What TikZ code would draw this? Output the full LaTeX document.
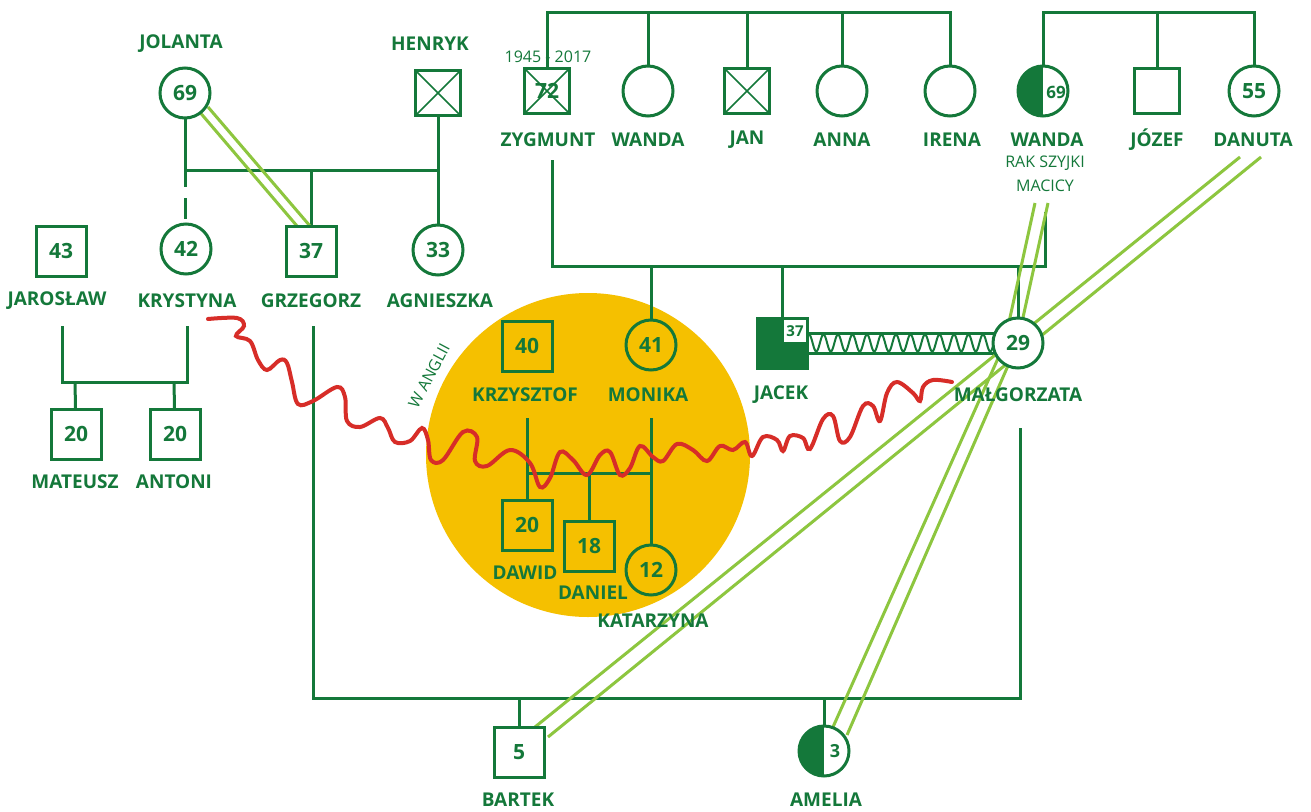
\documentclass[tikz,border=0pt]{standalone}
\usepackage{fontspec}
\setmainfont{Open Sans}
\usetikzlibrary{calc}
\definecolor{dg}{RGB}{20,120,58}
\definecolor{lg}{RGB}{141,198,63}
\definecolor{yl}{RGB}{245,192,0}
\definecolor{rd}{RGB}{215,45,40}
\pgfdeclarelayer{back}
\pgfdeclarelayer{lines}
\pgfsetlayers{back,lines,main}
\begin{document}
\begin{tikzpicture}[x=1pt,y=-1pt,
  rel/.style={draw=dg, line width=3pt},
  emo/.style={draw=lg, line width=3pt},
  person/.style={draw=dg, line width=3pt, fill=white, inner sep=0pt, text=dg, font=\fontsize{21}{21}\selectfont\bfseries},
  fem/.style={person, circle, minimum size=50pt},
  mal/.style={person, rectangle, minimum size=50pt},
  malsm/.style={person, rectangle, minimum size=45pt},
  crossed/.style={path picture={\draw[dg, line width=1.6pt] (path picture bounding box.north west) -- (path picture bounding box.south east) (path picture bounding box.north east) -- (path picture bounding box.south west);}},
  halffill/.style={path picture={\fill[dg] (path picture bounding box.north west) rectangle (path picture bounding box.south);}},
  nm/.style={text=dg, inner sep=0pt, font=\fontsize{19}{19}\selectfont\bfseries},
  note/.style={text=dg, inner sep=0pt, font=\fontsize{16}{17}\selectfont},
  inyl/.style={fill=yl},
]
\useasboundingbox (0,0) rectangle (1311,811);
\begin{pgfonlayer}{back}
\fill[white] (0,0) rectangle (1311,811);
\fill[yl] (588,455) circle[radius=162];
\end{pgfonlayer}

% ---------- persons ----------
\node[fem] (jolanta) at (185,93) {69};
\node[malsm, crossed] (henryk) at (438,93) {};
\node[malsm, crossed] (zygmunt) at (547,91) {72};
\node[fem] (wandaA) at (648,91) {};
\node[malsm, crossed] (jan) at (747,91) {};
\node[fem] (anna) at (842,91) {};
\node[fem] (irena) at (950,91) {};
\node[fem, halffill] (wandaB) at (1043,91) {};
\node[text=dg, inner sep=0pt, font=\fontsize{17}{17}\selectfont\bfseries] (wandaBage) at (1056,92) {69};
\node[malsm] (jozef) at (1157,91) {};
\node[fem] (danuta) at (1254,91) {55};

\node[mal] (jaroslaw) at (61,251) {43};
\node[fem] (krystyna) at (186,249) {42};
\node[mal] (grzegorz) at (311,251) {37};
\node[fem] (agnieszka) at (438,250) {33};

\node[mal] (mateusz) at (76,434) {20};
\node[mal] (antoni) at (175,434) {20};

\node[mal, inyl] (krzysztof) at (527,346) {40};
\node[fem, inyl] (monika) at (651,345) {41};
\node[mal, fill=dg] (jacek) at (782,343) {};
\node[draw=dg, fill=white, line width=1.2pt, minimum size=23pt, inner sep=0pt, text=dg, font=\fontsize{15}{15}\selectfont\bfseries] (jacekage) at (795,331) {37};
\node[fem] (malgorzata) at (1018,343) {29};

\node[mal, inyl] (dawid) at (527,525) {20};
\node[mal, inyl] (daniel) at (589,546) {18};
\node[fem, inyl] (katarzyna) at (651,570) {12};

\node[mal] (bartek) at (519,752) {5};
\node[fem, halffill] (amelia) at (824,751) {};
\node[text=dg, inner sep=0pt, font=\fontsize{18}{18}\selectfont\bfseries] (ameliaage) at (835,751) {3};

% ---------- names ----------
\node[nm] (nJolanta) at (181,44) {JOLANTA};
\node[nm] (nHenryk) at (430,44) {HENRYK};
\node[note] (nZygDates) at (548,57) {1945 - 2017};
\node[nm] (nZygmunt) at (548,140) {ZYGMUNT};
\node[nm] (nWandaA) at (648,140) {WANDA};
\node[nm] (nJan) at (747,140) {JAN};
\node[nm] (nAnna) at (842,140) {ANNA};
\node[nm] (nIrena) at (952,140) {IRENA};
\node[nm] (nWandaB) at (1047,140) {WANDA};
\node[note] (nRak1) at (1045,163) {RAK SZYJKI};
\node[note] (nRak2) at (1045,186) {MACICY};
\node[nm] (nJozef) at (1157,140) {JÓZEF};
\node[nm] (nDanuta) at (1253,140) {DANUTA};

\node[nm] (nJaroslaw) at (57,301) {JAROSŁAW};
\node[nm] (nKrystyna) at (187,301) {KRYSTYNA};
\node[nm] (nGrzegorz) at (311,301) {GRZEGORZ};
\node[nm] (nAgnieszka) at (440,301) {AGNIESZKA};

\node[nm] (nMateusz) at (75,482) {MATEUSZ};
\node[nm] (nAntoni) at (174,482) {ANTONI};

\node[nm] (nKrzysztof) at (525,395) {KRZYSZTOF};
\node[nm] (nMonika) at (648,395) {MONIKA};
\node[nm] (nJacek) at (781,395) {JACEK};
\node[nm] (nMalgorzata) at (1018,395) {MAŁGORZATA};

\node[nm] (nDawid) at (525,573) {DAWID};
\node[nm] (nDaniel) at (593,593) {DANIEL};
\node[nm] (nKatarzyna) at (653,621) {KATARZYNA};

\node[nm] (nBartek) at (518,800) {BARTEK};
\node[nm] (nAmelia) at (826,800) {AMELIA};

\node[note, rotate=62] (nAnglia) at (429,376) {W ANGLII};

% ---------- connectors ----------
\begin{pgfonlayer}{lines}
% Zygmunt's siblings
\draw[rel] (zygmunt.center) -- (547,12) -- (950,12) -- (irena.center);
\foreach \n in {wandaA,jan,anna} \draw[rel] (\n.center) -- (\n.center |- 0,12);
% Wanda's siblings
\draw[rel] (wandaB.center) -- (1043,12) -- (1254,12) -- (danuta.center);
\draw[rel] (jozef.center) -- (jozef.center |- 0,12);
% Jolanta + Henryk
\draw[rel] (jolanta.center) -- (185,170) -- (438,170) -- (henryk.center);
\draw[rel] (311,170) -- (grzegorz.center);
\draw[rel] (438,170) -- (agnieszka.center);
\draw[rel] (185,170) -- (185,187) (185,198) -- (185,219);
% Jaroslaw + Krystyna
\draw[rel] (62,326) -- (62,382) -- (187,382) -- (187,326);
\draw[rel] (75,382) -- (mateusz.center);
\draw[rel] (174,382) -- (antoni.center);
% Zygmunt + Wanda
\draw[rel] (552,160) -- (552,266) -- (1045,266) -- (1045,212);
\draw[rel] (651,266) -- (monika.center);
\draw[rel] (782,266) -- (jacek.center);
\draw[rel] (1018,266) -- (malgorzata.center);
% Krzysztof + Monika
\draw[rel] (527,418) -- (dawid.center);
\draw[rel] (651,418) -- (katarzyna.center);
\draw[rel] (527,473) -- (651,473);
\draw[rel] (589,473) -- (daniel.center);
% Grzegorz + Malgorzata
\draw[rel] (313,326) -- (313,698) -- (1020,698) -- (1020,428);
\draw[rel] (519,698) -- (bartek.center);
\draw[rel] (824,698) -- (amelia.center);
% Jacek + Malgorzata
\draw[rel] (jacek.center |- 0,333) -- (malgorzata.center |- 0,333);
\draw[rel] (jacek.center |- 0,353) -- (malgorzata.center |- 0,353);
\draw[dg, line width=2pt] plot[domain=0:187, samples=300] ({809+\x}, {343 - 8.5*cos(24.83*\x)});
% emotional ties
\draw[emo] (198,110) -- (297,226);
\draw[emo] (208,107) -- (310,226);
\draw[emo] (1240,157) -- (535,727);
\draw[emo] (1261,157) -- (548,737);
\draw[emo] (1035,203) -- (1004,345) -- (833,727);
\draw[emo] (1048,203) -- (1017,345) -- (847,735);
\end{pgfonlayer}

% red wavy line
\draw[rd, line width=4pt, line cap=round] plot[smooth, tension=0.6] coordinates {
(208,319) (237,318) (244,326) (236,336) (250,341) (258,360) (267,370) (280,360) (287,363) (292,382) (298,404) (313,401) (337,387) (345,397) (347,421) (360,427) (380,418) (388,428) (395,442) (410,441) (422,428) (428,440) (431,460) (443,460) (463,432) (477,437) (475,461) (487,466) (510,450) (530,463) (540,487) (550,478) (560,452) (573,460) (587,475) (600,455) (610,452) (620,475) (630,468) (640,446) (653,457) (663,461) (677,444) (693,450) (707,461) (720,446) (733,450) (745,442) (752,456) (763,437) (777,440) (783,451) (790,436) (803,438) (810,449) (823,419) (833,416) (840,441) (850,437) (863,406) (873,406) (880,421) (887,393) (897,382) (913,393) (920,401) (923,387) (933,380) (952,382)};
\end{tikzpicture}
\end{document}
